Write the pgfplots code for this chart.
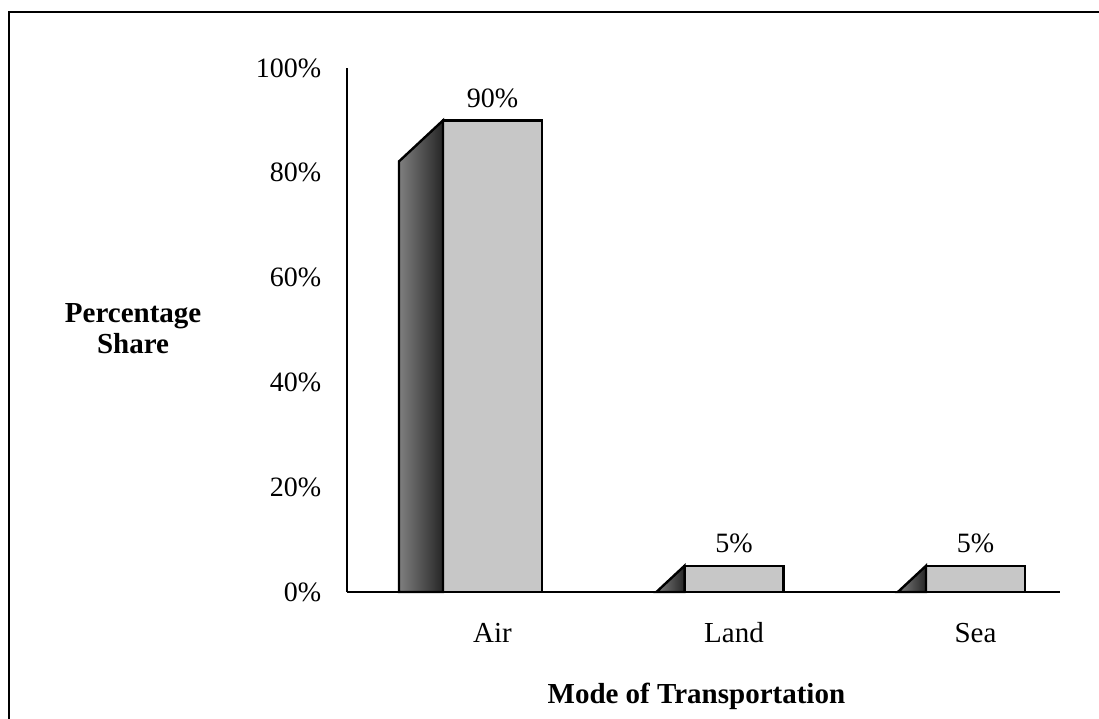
\documentclass[border=0pt]{standalone}
\usepackage{pgfplots}
\usepackage{pgfplotstable}
\pgfplotsset{compat=1.18}
\usepackage{fontspec}
\setmainfont{Liberation Serif}
\pgfplotstableread{
x y
0 90
1 5
2 5
}\datatable
\begin{document}
\fontsize{29}{31}\selectfont
\begin{tikzpicture}
\useasboundingbox (0pt,0pt) rectangle (1099pt,-719pt);
\draw[line width=2.8pt] (9pt,-750pt) -- (9pt,-12pt) -- (1130pt,-12pt);
\begin{axis}[
  at={(347pt,-592pt)}, anchor=south west,
  scale only axis, width=713pt, height=524pt,
  xmin=-0.6025, xmax=2.350, ymin=0, ymax=100,
  axis x line*=bottom, axis y line*=left,
  axis line style={-, line width=2.6pt},
  major tick length=0pt,
  xtick={0,1,2}, xticklabels={Air,Land,Sea},
  ytick={0,20,40,60,80,100},
  yticklabel={\pgfmathprintnumber{\tick}\%},
  /pgf/number format/assume math mode=true,
  xticklabel style={yshift=-21pt},
  yticklabel style={xshift=-16pt, font=\fontsize{28}{31}\selectfont},
  ylabel={Percentage\\Share},
  ylabel style={at={(axis description cs:-0.300,0.503)}, rotate=-90, anchor=center, align=center, font=\bfseries},
  xlabel={Mode of Transportation},
  xlabel style={at={(axis description cs:0.490,-0.199)}, anchor=center, font=\bfseries},
  clip=false,
]
\addplot[ybar, bar width=99pt, fill=black!22, draw=black, line width=2.4pt,
  nodes near coords={\pgfmathprintnumber{\pgfplotspointmeta}\%},
  every node near coord/.append style={yshift=2pt, text=black, font=\fontsize{28}{31}\selectfont}]
  table[x=x,y=y]{\datatable};
\addplot[scatter, only marks, mark=*, mark size=0pt,
  visualization depends on={rawy \as \rawy},
  scatter/@pre marker code/.code={%
    \pgfmathsetmacro{\H}{\rawy*5.24}%
    \pgfmathsetmacro{\hh}{min(\H,41)}%
    \pgfmathsetmacro{\xl}{-49.5-44*\hh/41}%
    \shadedraw[left color=black!50, right color=black!85, draw=black, line width=2.4pt, line join=miter]
      (-49.5pt,0pt) -- (\xl pt,-\hh pt) -- (\xl pt,-\H pt) -- (-49.5pt,-\H pt) -- cycle;
  },
  scatter/@post marker code/.code={},
] table[x=x,y=y]{\datatable};
\end{axis}
\end{tikzpicture}
\end{document}
